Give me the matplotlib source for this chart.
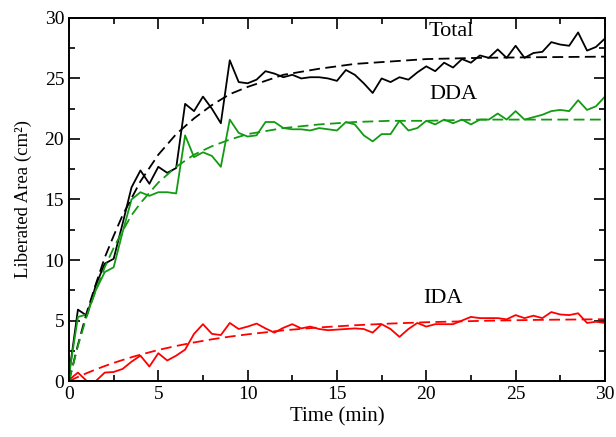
import matplotlib
matplotlib.use("Agg")
import matplotlib.pyplot as plt
from matplotlib.ticker import MultipleLocator

plt.rcParams['font.family'] = ['Liberation Serif', 'DejaVu Serif']
plt.rcParams['mathtext.fontset'] = 'stix'

# measured series (every 0.5 min)
time = [i * 0.5 for i in range(61)]
total = [0.5, 5.9, 5.4, 7.9, 9.7, 10.1, 13.0, 16.0, 17.4, 16.3,
         17.7, 17.2, 17.6, 22.9, 22.3, 23.5, 22.5, 21.3, 26.5, 24.7,
         24.6, 24.9, 25.6, 25.4, 25.1, 25.3, 25.0, 25.1, 25.1, 25.0,
         24.8, 25.7, 25.3, 24.6, 23.8, 25.0, 24.7, 25.1, 24.9, 25.5,
         26.0, 25.6, 26.3, 25.9, 26.6, 26.3, 26.9, 26.7, 27.4, 26.7,
         27.7, 26.7, 27.1, 27.2, 28.0, 27.8, 27.7, 28.8, 27.3, 27.6,
         28.3]
dda = [0.5, 5.3, 5.5, 7.5, 9.0, 9.4, 12.3, 15.0, 15.6, 15.3,
       15.6, 15.6, 15.5, 20.3, 18.5, 18.9, 18.6, 17.7, 21.6, 20.5,
       20.2, 20.3, 21.4, 21.4, 20.9, 20.8, 20.8, 20.7, 20.9, 20.8,
       20.7, 21.4, 21.2, 20.3, 19.8, 20.4, 20.4, 21.5, 20.7, 20.9,
       21.5, 21.2, 21.6, 21.3, 21.6, 21.2, 21.6, 21.6, 22.1, 21.6,
       22.3, 21.6, 21.8, 22.0, 22.3, 22.4, 22.3, 23.2, 22.4, 22.7,
       23.5]
ida = [0.1, 0.7, 0.0, 0.0, 0.7, 0.75, 1.0, 1.6, 2.1, 1.2,
       2.3, 1.7, 2.1, 2.6, 3.9, 4.7, 3.9, 3.8, 4.8, 4.3,
       4.5, 4.75, 4.35, 4.0, 4.4, 4.7, 4.35, 4.5, 4.3, 4.2,
       4.25, 4.3, 4.35, 4.3, 4.0, 4.7, 4.3, 3.65, 4.3, 4.8,
       4.5, 4.7, 4.7, 4.7, 5.0, 5.3, 5.2, 5.2, 5.2, 5.1,
       5.45, 5.2, 5.4, 5.2, 5.7, 5.5, 5.45, 5.6, 4.8, 4.9,
       4.8]

# fitted curves
fit_t = [0, 0.5, 1, 1.5, 2, 2.5, 3, 3.5, 4, 5, 6, 7, 8, 9, 10, 12, 14, 16, 18, 20, 23, 26, 30]
fit_total = [0, 3.0, 5.7, 8.0, 10.2, 12.0, 13.7, 15.1, 16.5, 18.7, 20.4, 21.7, 22.8, 23.7,
             24.3, 25.3, 25.8, 26.2, 26.4, 26.6, 26.7, 26.75, 26.8]
fit_dda = [0, 2.9, 5.4, 7.5, 9.4, 11.0, 12.4, 13.7, 14.7, 16.4, 17.7, 18.7, 19.4, 19.95,
           20.4, 20.9, 21.2, 21.4, 21.5, 21.5, 21.6, 21.6, 21.6]
fit_ida = [0, 0.34, 0.66, 0.96, 1.24, 1.5, 1.74, 1.97, 2.18, 2.57, 2.90, 3.19, 3.45, 3.67,
           3.86, 4.19, 4.43, 4.61, 4.75, 4.86, 4.97, 5.05, 5.11]

series_labels = ["Total", "DDA", "IDA"]
label_pos = [(21.4, 28.9), (21.5, 23.7), (20.95, 6.85)]

c_black = "black"
c_green = "#139a13"
c_red = "#ff0000"

fig = plt.figure(figsize=(6.16, 4.37), dpi=100)
ax = fig.add_axes([0.112, 0.128, 0.870, 0.831])

lw = 1.3
ax.plot(time, total, color=c_black, lw=lw)
ax.plot(time, dda, color=c_green, lw=lw)
ax.plot(time, ida, color=c_red, lw=lw)
ax.plot(fit_t, fit_total, color=c_black, lw=lw, ls=(0, (6, 3)))
ax.plot(fit_t, fit_dda, color=c_green, lw=lw, ls=(0, (6, 3)))
ax.plot(fit_t, fit_ida, color=c_red, lw=lw, ls=(0, (6, 3)))

for lab, (x, y) in zip(series_labels, label_pos):
    ax.text(x, y, lab, fontsize=16, ha='center', va='center')

ax.set_xlim(0, 30)
ax.set_ylim(0, 30)
ax.xaxis.set_major_locator(MultipleLocator(5))
ax.xaxis.set_minor_locator(MultipleLocator(2.5))
ax.yaxis.set_major_locator(MultipleLocator(5))
ax.yaxis.set_minor_locator(MultipleLocator(2.5))
ax.tick_params(which='both', direction='in', top=True, right=True, width=1.2, labelsize=14)
ax.tick_params(which='major', length=8)
ax.tick_params(which='minor', length=4)
for s in ax.spines.values():
    s.set_linewidth(1.4)

ax.set_xlabel("Time (min)", fontsize=15, labelpad=3)
ax.set_ylabel("Liberated Area (cm²)", fontsize=13.5, labelpad=9)

fig.savefig("out.png", dpi=100)
